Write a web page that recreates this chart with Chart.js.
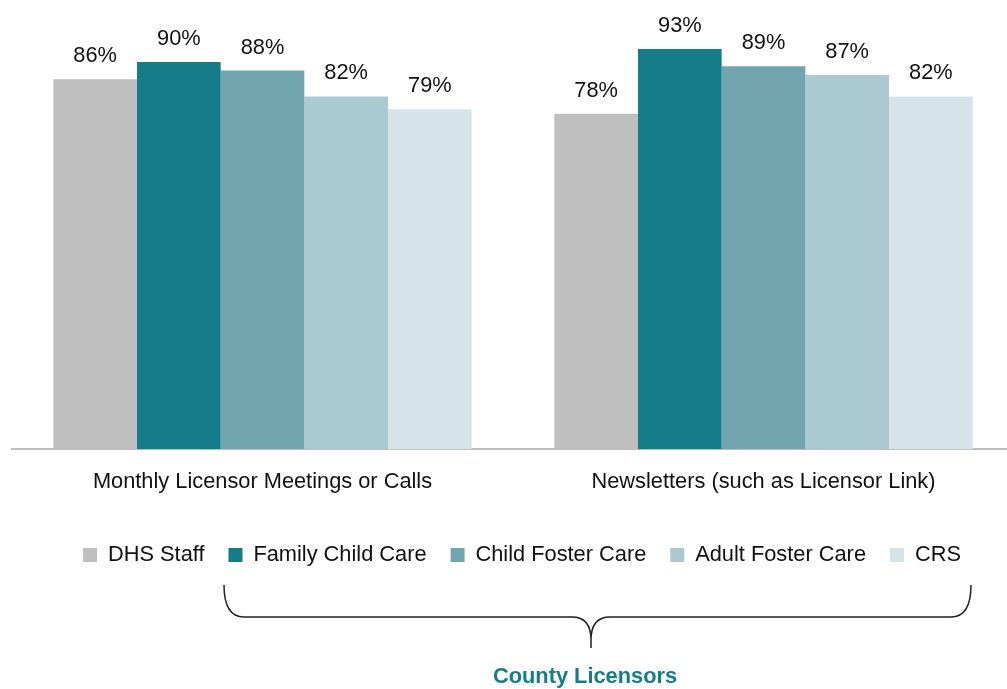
<!DOCTYPE html>
<html>
<head>
<meta charset="utf-8">
<script src="https://cdn.jsdelivr.net/npm/chart.js@4.4.0/dist/chart.umd.min.js"></script>
<style>
  html, body { margin: 0; padding: 0; background: #fff; overflow: hidden; }
  #wrap { width: 1032px; height: 689px; }
</style>
</head>
<body>
<div id="wrap"><canvas id="myChart" width="1032" height="689"></canvas></div>
<script>
const categories = ['Monthly Licensor Meetings or Calls', 'Newsletters (such as Licensor Link)'];
const seriesNames = ['DHS Staff', 'Family Child Care', 'Child Foster Care', 'Adult Foster Care', 'CRS'];
const dhsStaff = [86, 78];
const familyChildCare = [90, 93];
const childFosterCare = [88, 89];
const adultFosterCare = [82, 87];
const crs = [79, 82];
const colors = ['#BFBFBF', '#147D89', '#71A5AF', '#ABC9D1', '#D4E4E8'];

const allValues = [dhsStaff, familyChildCare, childFosterCare, adultFosterCare, crs];
const FONT = "'Liberation Sans', Arial, sans-serif";
const FS = 21.8;

// value labels above the bars
const valueLabels = {
  id: 'valueLabels',
  afterDatasetsDraw(chart) {
    const ctx = chart.ctx;
    ctx.save();
    ctx.font = FS + 'px ' + FONT;
    ctx.fillStyle = '#111';
    ctx.textAlign = 'center';
    ctx.textBaseline = 'alphabetic';
    chart.data.datasets.forEach((ds, i) => {
      chart.getDatasetMeta(i).data.forEach((bar, j) => {
        ctx.fillText(ds.data[j] + '%', bar.x, bar.y - 17);
      });
    });
    ctx.restore();
  }
};

// brace under the county licensor legend items
const brace = {
  id: 'brace',
  afterDraw(chart) {
    const ctx = chart.ctx;
    ctx.save();
    ctx.strokeStyle = '#222';
    ctx.lineWidth = 1.5;
    ctx.beginPath();
    ctx.moveTo(224, 585);
    ctx.quadraticCurveTo(224, 617, 244, 617);
    ctx.lineTo(572, 617);
    ctx.quadraticCurveTo(591, 617, 591, 640);
    ctx.lineTo(591, 648);
    ctx.moveTo(591, 640);
    ctx.quadraticCurveTo(591, 617, 610, 617);
    ctx.lineTo(951, 617);
    ctx.quadraticCurveTo(971, 617, 971, 585);
    ctx.stroke();

    ctx.font = 'bold ' + FS + 'px ' + FONT;
    ctx.fillStyle = '#147D89';
    ctx.textAlign = 'center';
    ctx.textBaseline = 'middle';
    ctx.fillText('County Licensors', 585, 677);
    ctx.restore();
  }
};

const data = {
  labels: categories,
  datasets: seriesNames.map((name, i) => ({
    label: name,
    data: allValues[i],
    backgroundColor: colors[i],
    borderWidth: 0,
    categoryPercentage: 0.835,
    barPercentage: 1.0
  }))
};

const config = {
  type: 'bar',
  data: data,
  options: {
    responsive: false,
    animation: false,
    layout: { padding: { left: 12, top: 19, right: 0, bottom: 113 } },
    plugins: {
      tooltip: { enabled: false },
      legend: {
        position: 'bottom',
        labels: {
          boxWidth: 14,
          boxHeight: 14,
          padding: 24,
          color: '#111',
          font: { family: FONT, size: FS }
        }
      }
    },
    scales: {
      x: {
        grid: { display: false, drawTicks: false },
        border: { display: true, color: '#BFBFBF', width: 2 },
        ticks: { color: '#111', padding: 20, font: { family: FONT, size: FS } },
        afterFit(scale) { scale.height = 71; }
      },
      y: {
        position: 'right',
        min: 0,
        max: 100,
        grid: { display: false },
        border: { display: false },
        ticks: { display: false },
        afterFit(scale) { scale.width = 18; }
      }
    }
  },
  plugins: [valueLabels, brace]
};

new Chart(document.getElementById('myChart'), config);
</script>
</body>
</html>
